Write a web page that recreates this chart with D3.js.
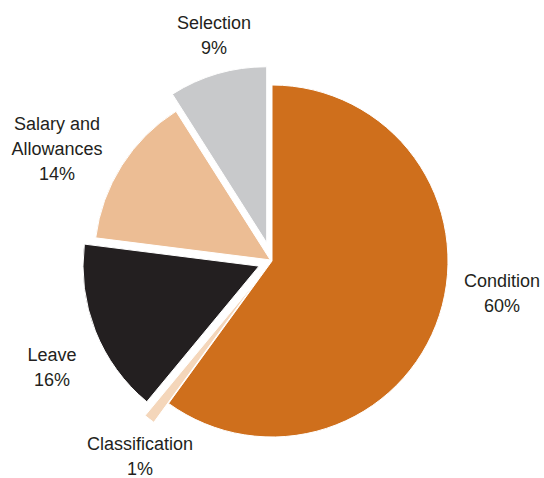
<!DOCTYPE html>
<html><head><meta charset="utf-8">
<script src="https://cdn.jsdelivr.net/npm/d3@7"></script>
<style>body{margin:0;background:#fff}</style>
</head><body><svg id="c" width="544" height="478"></svg>
<script>
const categories = ["Condition", "Classification", "Leave", "Salary and Allowances", "Selection"];
const values = [60, 1, 16, 14, 9];
const colors = ["#CF6F1C", "#F4D6BA", "#231F20", "#ECBD94", "#C8C9CB"];
const explode = [0, 24, 14, 2, 19];
const labelLines = [["Condition", "60%"], ["Classification", "1%"], ["Leave", "16%"], ["Salary and", "Allowances", "14%"], ["Selection", "9%"]];
const labelXY = [[502, 287], [140, 450], [52, 361], [57, 130], [214, 29]];

const svg = d3.select("#c");
const cx = 272, cy = 261, r = 176;
const data = categories.map((c, i) => ({name: c, value: values[i], i}));
const pie = d3.pie().sort(null).value(d => d.value).startAngle(0).endAngle(2 * Math.PI);
const arc = d3.arc().innerRadius(0).outerRadius(r);
const g = svg.append("g").attr("transform", `translate(${cx},${cy})`);
g.selectAll("path").data(pie(data)).join("path")
  .attr("d", arc)
  .attr("fill", d => colors[d.data.i])
  .attr("stroke", "#fff").attr("stroke-width", 1)
  .attr("transform", d => {
    const m = (d.startAngle + d.endAngle) / 2, e = explode[d.data.i];
    return `translate(${Math.sin(m) * e},${-Math.cos(m) * e})`;
  });
const lab = svg.append("g").attr("font-family", "'Liberation Sans', Arial, sans-serif")
  .attr("font-size", 18).attr("fill", "#231F20").attr("text-anchor", "middle");
data.forEach((d, i) => {
  const t = lab.append("text").attr("x", labelXY[i][0]).attr("y", labelXY[i][1]);
  labelLines[i].forEach((s, k) => t.append("tspan").attr("x", labelXY[i][0]).attr("dy", k ? 25 : 0).text(s));
});
</script></body></html>
